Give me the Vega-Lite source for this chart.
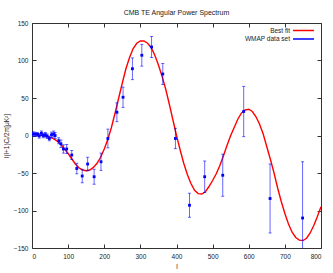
{
  "$schema": "https://vega.github.io/schema/vega-lite/v6.json",
  "autosize": "none",
  "width": 289,
  "height": 225,
  "padding": {"left": 32, "top": 23, "right": 12, "bottom": 25},
  "background": "white",
  "config": {
    "font": "Liberation Sans",
    "view": {"stroke": "#333333", "strokeWidth": 1},
    "axis": {"grid": false, "domain": false, "labelFontSize": 6.5, "labelColor": "#222222", "tickColor": "#333333", "tickSize": -4, "titleFontSize": 6.5, "titleFontWeight": "normal", "titleColor": "#222222"},
    "title": {"fontSize": 7, "fontWeight": "normal", "color": "#222222", "offset": 4.5}
  },
  "title": "CMB TE Angular Power Spectrum",
  "datasets": {
    "fit": [
      {"l": 2, "v": 1.5}, {"l": 10, "v": 1}, {"l": 20, "v": 0.5}, {"l": 30, "v": 0}, {"l": 40, "v": -1},
      {"l": 50, "v": -2.5}, {"l": 60, "v": -4.5}, {"l": 70, "v": -7.5}, {"l": 80, "v": -12}, {"l": 90, "v": -18},
      {"l": 100, "v": -24}, {"l": 110, "v": -31}, {"l": 120, "v": -38}, {"l": 130, "v": -43}, {"l": 140, "v": -46},
      {"l": 150, "v": -47}, {"l": 160, "v": -46}, {"l": 170, "v": -42.5}, {"l": 180, "v": -37}, {"l": 190, "v": -29},
      {"l": 200, "v": -18}, {"l": 210, "v": -5}, {"l": 220, "v": 11}, {"l": 230, "v": 30}, {"l": 240, "v": 50},
      {"l": 250, "v": 70}, {"l": 260, "v": 89}, {"l": 270, "v": 104}, {"l": 280, "v": 116}, {"l": 290, "v": 123},
      {"l": 300, "v": 126}, {"l": 310, "v": 126}, {"l": 320, "v": 123}, {"l": 330, "v": 117}, {"l": 340, "v": 107},
      {"l": 350, "v": 94}, {"l": 360, "v": 79}, {"l": 370, "v": 62}, {"l": 380, "v": 42}, {"l": 390, "v": 21},
      {"l": 400, "v": 0}, {"l": 410, "v": -19}, {"l": 420, "v": -37}, {"l": 430, "v": -52}, {"l": 440, "v": -64},
      {"l": 450, "v": -73}, {"l": 460, "v": -77.5}, {"l": 470, "v": -78}, {"l": 480, "v": -75}, {"l": 490, "v": -68},
      {"l": 500, "v": -60}, {"l": 510, "v": -51}, {"l": 520, "v": -40}, {"l": 530, "v": -27}, {"l": 540, "v": -13},
      {"l": 550, "v": 0}, {"l": 560, "v": 11}, {"l": 570, "v": 22}, {"l": 580, "v": 30}, {"l": 590, "v": 34},
      {"l": 600, "v": 35}, {"l": 610, "v": 32}, {"l": 620, "v": 25}, {"l": 630, "v": 15}, {"l": 640, "v": 2},
      {"l": 650, "v": -15}, {"l": 660, "v": -32}, {"l": 670, "v": -50}, {"l": 680, "v": -70}, {"l": 690, "v": -88},
      {"l": 700, "v": -104}, {"l": 710, "v": -118}, {"l": 720, "v": -129}, {"l": 730, "v": -136}, {"l": 740, "v": -139.5},
      {"l": 750, "v": -140}, {"l": 760, "v": -137}, {"l": 770, "v": -130}, {"l": 780, "v": -120}, {"l": 790, "v": -108},
      {"l": 800, "v": -95}
    ],
    "wmap": [
      {"l": 2, "v": 2, "lo": -1, "hi": 5}, {"l": 8, "v": 2, "lo": -0.5, "hi": 4.5}, {"l": 15, "v": 1.5, "lo": -1, "hi": 4},
      {"l": 20, "v": -0.5, "lo": -3.5, "hi": 2.5}, {"l": 26, "v": 3, "lo": 0, "hi": 6}, {"l": 31, "v": 0, "lo": -3, "hi": 3},
      {"l": 37, "v": 1, "lo": -2, "hi": 4}, {"l": 42, "v": -1, "lo": -4, "hi": 2}, {"l": 48, "v": -4, "lo": -7, "hi": -1},
      {"l": 54, "v": 1, "lo": -2.5, "hi": 4.5}, {"l": 60, "v": 2, "lo": -2, "hi": 6}, {"l": 64, "v": 0, "lo": -4, "hi": 4},
      {"l": 74, "v": -7, "lo": -11, "hi": -3}, {"l": 80, "v": -11, "lo": -16, "hi": -6}, {"l": 87, "v": -18, "lo": -23.5, "hi": -12.5},
      {"l": 96, "v": -18, "lo": -24, "hi": -12}, {"l": 110, "v": -26, "lo": -32, "hi": -20}, {"l": 124, "v": -44, "lo": -51, "hi": -37},
      {"l": 139, "v": -54, "lo": -63, "hi": -45}, {"l": 154, "v": -38, "lo": -47, "hi": -29}, {"l": 172, "v": -55, "lo": -65, "hi": -45},
      {"l": 191, "v": -35, "lo": -46.5, "hi": -23.5}, {"l": 210, "v": -4, "lo": -16.5, "hi": 8.5}, {"l": 235, "v": 31, "lo": 18.5, "hi": 43.5},
      {"l": 252, "v": 51, "lo": 37.5, "hi": 64.5}, {"l": 278, "v": 89, "lo": 74.5, "hi": 103.5}, {"l": 304, "v": 107, "lo": 92.5, "hi": 121.5},
      {"l": 331, "v": 118, "lo": 104, "hi": 132}, {"l": 362, "v": 82, "lo": 68, "hi": 96}, {"l": 397, "v": -4, "lo": -17.5, "hi": 9.5},
      {"l": 436, "v": -93, "lo": -109, "hi": -77}, {"l": 478, "v": -55, "lo": -76, "hi": -34}, {"l": 528, "v": -53, "lo": -81, "hi": -25},
      {"l": 586, "v": 32, "lo": -1.5, "hi": 65.5}, {"l": 659, "v": -84, "lo": -130, "hi": -38}, {"l": 749, "v": -110, "lo": -185, "hi": -35}
    ]
  },
  "resolve": {"axis": {"x": "independent", "y": "independent"}},
  "layer": [
    {
      "data": {"name": "fit"},
      "mark": {"type": "line", "strokeWidth": 1.4, "clip": true},
      "encoding": {
        "x": {"field": "l", "type": "quantitative", "scale": {"domain": [0, 800], "nice": false}, "axis": {"orient": "bottom", "title": "l", "values": [0,100,200,300,400,500,600,700,800], "labelPadding": 9, "titlePadding": 4}},
        "y": {"field": "v", "type": "quantitative", "scale": {"domain": [-150, 150], "nice": false}, "axis": {"orient": "left", "title": "l(l+1)Cₗ/2π[μK²]", "values": [-150,-100,-50,0,50,100,150], "labelPadding": 8, "titlePadding": 4}},
        "color": {"datum": "Best fit", "type": "nominal", "scale": {"domain": ["Best fit", "WMAP data set"], "range": ["#ff0000", "#0000ff"]},
          "legend": {"title": null, "orient": "top-right", "offset": 3, "symbolType": "M-4.71,0H1.29", "symbolSize": 49, "symbolStrokeWidth": 1.5, "labelFontSize": 6.5, "labelColor": "#222222", "labelAlign": "right", "labelOffset": -24, "rowPadding": 0.5, "padding": 0}}
      }
    },
    {
      "data": {"name": "wmap"},
      "mark": {"type": "rule", "color": "#0000ff", "opacity": 0.6, "strokeWidth": 1, "clip": true},
      "encoding": {
        "x": {"field": "l", "type": "quantitative", "scale": {"domain": [0, 800], "nice": false}, "axis": {"orient": "top", "labels": false, "title": null, "values": [0,100,200,300,400,500,600,700,800]}},
        "y": {"field": "lo", "type": "quantitative", "scale": {"domain": [-150, 150], "nice": false}, "axis": {"orient": "right", "labels": false, "title": null, "values": [-150,-100,-50,0,50,100,150]}},
        "y2": {"field": "hi"}
      }
    },
    {
      "data": {"name": "wmap"},
      "mark": {"type": "tick", "orient": "horizontal", "color": "#0000ff", "opacity": 0.6, "size": 3, "thickness": 1, "clip": true},
      "encoding": {
        "x": {"field": "l", "type": "quantitative", "axis": null},
        "y": {"field": "lo", "type": "quantitative", "axis": null}
      }
    },
    {
      "data": {"name": "wmap"},
      "mark": {"type": "tick", "orient": "horizontal", "color": "#0000ff", "opacity": 0.6, "size": 3, "thickness": 1, "clip": true},
      "encoding": {
        "x": {"field": "l", "type": "quantitative", "axis": null},
        "y": {"field": "hi", "type": "quantitative", "axis": null}
      }
    },
    {
      "data": {"name": "wmap"},
      "mark": {"type": "point", "shape": "square", "filled": true, "size": 8, "opacity": 1, "clip": true},
      "encoding": {
        "x": {"field": "l", "type": "quantitative", "axis": null},
        "y": {"field": "v", "type": "quantitative", "axis": null},
        "color": {"datum": "WMAP data set", "type": "nominal"}
      }
    }
  ]
}
